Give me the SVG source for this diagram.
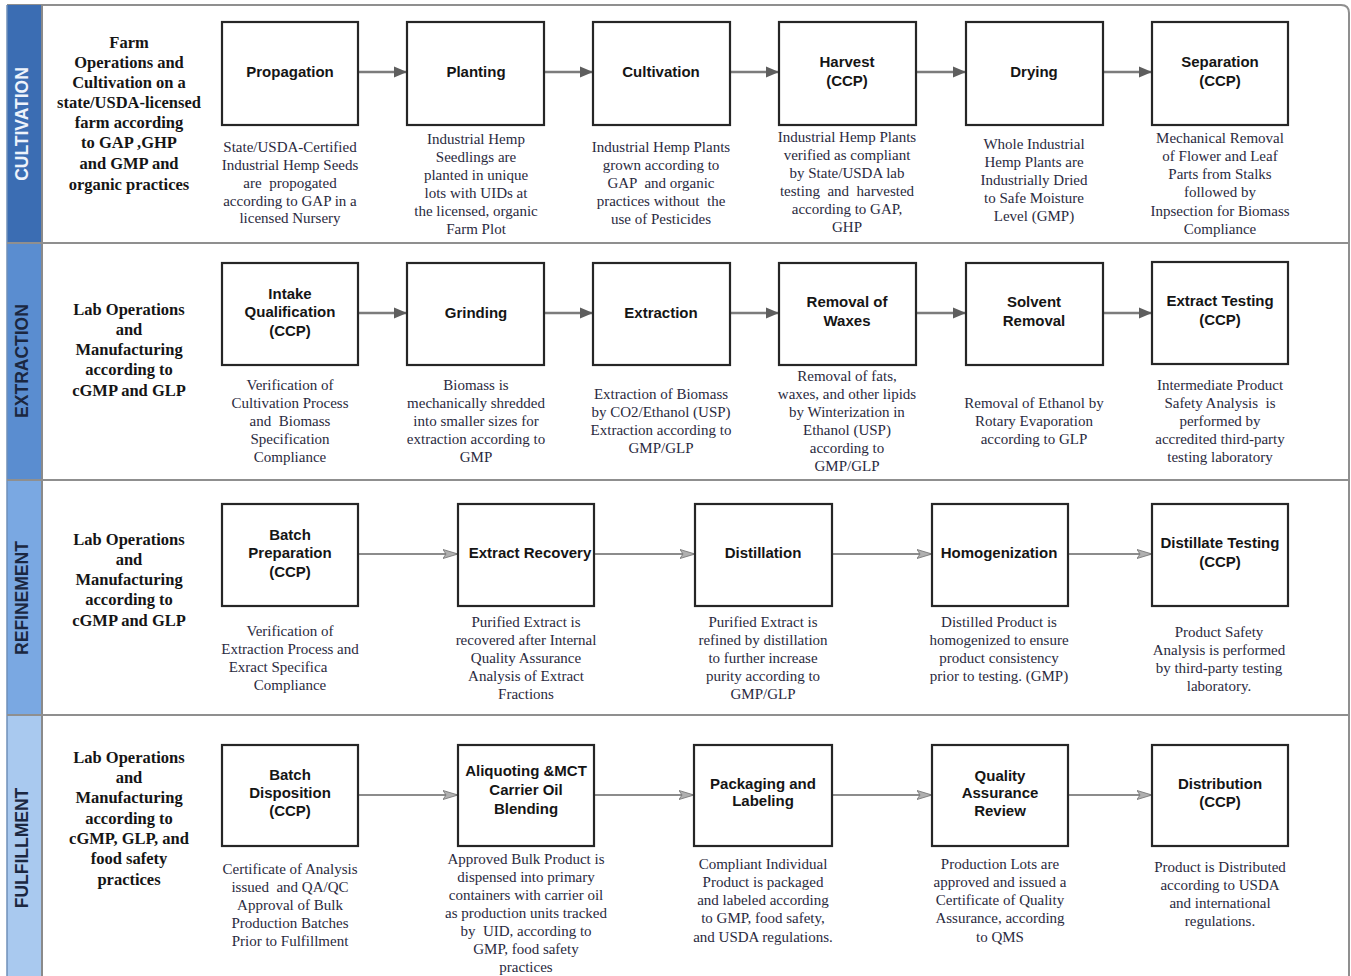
<svg xmlns="http://www.w3.org/2000/svg" width="1351" height="976" viewBox="0 0 1351 976">
<style>
.hdr{font-family:"Liberation Sans",Arial,sans-serif;font-weight:bold;font-size:17.5px;text-anchor:middle}
.lbl{font-family:"Liberation Serif","Times New Roman",serif;font-weight:bold;font-size:16.5px;text-anchor:middle;fill:#151515}
.box{fill:#fff;stroke:#262626;stroke-width:2.2}
.ttl{font-family:"Liberation Sans",Arial,sans-serif;font-weight:bold;font-size:15px;text-anchor:middle;fill:#151515}
.dsc{font-family:"Liberation Serif","Times New Roman",serif;font-size:15px;text-anchor:middle;fill:#2a2a3e;white-space:pre}
.c1{stroke:#7c7c7c;stroke-width:2.5;fill:none}
.c2{stroke:#8c8c8c;stroke-width:1.8;fill:none}
.div{stroke:#8f8f8f;stroke-width:2;fill:none}
</style>
<defs>
<marker id="ah1" markerUnits="userSpaceOnUse" markerWidth="14" markerHeight="12" refX="13" refY="6" orient="auto">
<path d="M0,0.5 L13,6 L0,11.5 z" fill="#5e5e5e"/>
</marker>
<marker id="ah2" markerUnits="userSpaceOnUse" markerWidth="16" markerHeight="12" refX="15" refY="6" orient="auto">
<path d="M0,1.5 L15,6 L0,10.5 L3,6 z" fill="#b0b0b0" stroke="#7a7a7a" stroke-width="0.9"/>
</marker>
</defs>
<rect x="0" y="0" width="1351" height="976" fill="#fff"/>

<g id="lanes">
<path d="M7,5 H1341 Q1349,5 1349,13 V976" class="div"/>
<rect x="7" y="5" width="35" height="238" fill="#3b6db3"/>
<rect x="7" y="243" width="35" height="237" fill="#5a8dd0"/>
<rect x="7" y="480" width="35" height="235" fill="#7aa8e2"/>
<rect x="7" y="715" width="35" height="261" fill="#a9c9ef"/>
<line x1="42" y1="5" x2="42" y2="976" stroke="#8a8a8a" stroke-width="2"/>
<line x1="7" y1="5" x2="7" y2="976" stroke="#6f8fb8" stroke-width="1.5"/>
<line x1="7" y1="243" x2="1349" y2="243" class="div"/>
<line x1="7" y1="480" x2="1349" y2="480" class="div"/>
<line x1="7" y1="715" x2="1349" y2="715" class="div"/>
<text class="hdr" fill="#eef3fb" transform="translate(28,124) rotate(-90)">CULTIVATION</text>
<text class="hdr" fill="#1b2740" transform="translate(28,361) rotate(-90)">EXTRACTION</text>
<text class="hdr" fill="#1b2740" transform="translate(28,598) rotate(-90)">REFINEMENT</text>
<text class="hdr" fill="#1b2740" transform="translate(28,848) rotate(-90)">FULFILLMENT</text>
</g>

<g id="lane-labels">
<text class="lbl"><tspan x="129" y="48">Farm</tspan><tspan x="129" y="68">Operations and</tspan><tspan x="129" y="88">Cultivation on a</tspan><tspan x="129" y="108">state/USDA-licensed</tspan><tspan x="129" y="128">farm according</tspan><tspan x="129" y="148">to GAP ,GHP</tspan><tspan x="129" y="169">and GMP and</tspan><tspan x="129" y="190">organic practices</tspan></text>
<text class="lbl"><tspan x="129" y="315">Lab Operations</tspan><tspan x="129" y="335">and</tspan><tspan x="129" y="355">Manufacturing</tspan><tspan x="129" y="375">according to</tspan><tspan x="129" y="396">cGMP and GLP</tspan></text>
<text class="lbl"><tspan x="129" y="545">Lab Operations</tspan><tspan x="129" y="565">and</tspan><tspan x="129" y="585">Manufacturing</tspan><tspan x="129" y="605">according to</tspan><tspan x="129" y="626">cGMP and GLP</tspan></text>
<text class="lbl"><tspan x="129" y="763">Lab Operations</tspan><tspan x="129" y="783">and</tspan><tspan x="129" y="803">Manufacturing</tspan><tspan x="129" y="824">according to</tspan><tspan x="129" y="844">cGMP, GLP, and</tspan><tspan x="129" y="864">food safety</tspan><tspan x="129" y="885">practices</tspan></text>
</g>

<g id="connectors">
<line class="c1" x1="358" y1="72" x2="407" y2="72" marker-end="url(#ah1)"/>
<line class="c1" x1="544" y1="72" x2="593" y2="72" marker-end="url(#ah1)"/>
<line class="c1" x1="730" y1="72" x2="779" y2="72" marker-end="url(#ah1)"/>
<line class="c1" x1="916" y1="72" x2="966" y2="72" marker-end="url(#ah1)"/>
<line class="c1" x1="1103" y1="72" x2="1152" y2="72" marker-end="url(#ah1)"/>
<line class="c1" x1="358" y1="313" x2="407" y2="313" marker-end="url(#ah1)"/>
<line class="c1" x1="544" y1="313" x2="593" y2="313" marker-end="url(#ah1)"/>
<line class="c1" x1="730" y1="313" x2="779" y2="313" marker-end="url(#ah1)"/>
<line class="c1" x1="916" y1="313" x2="966" y2="313" marker-end="url(#ah1)"/>
<line class="c1" x1="1103" y1="313" x2="1152" y2="313" marker-end="url(#ah1)"/>
<line class="c2" x1="358" y1="554" x2="458" y2="554" marker-end="url(#ah2)"/>
<line class="c2" x1="594" y1="554" x2="695" y2="554" marker-end="url(#ah2)"/>
<line class="c2" x1="832" y1="554" x2="932" y2="554" marker-end="url(#ah2)"/>
<line class="c2" x1="1068" y1="554" x2="1152" y2="554" marker-end="url(#ah2)"/>
<line class="c2" x1="358" y1="795" x2="458" y2="795" marker-end="url(#ah2)"/>
<line class="c2" x1="594" y1="795" x2="694" y2="795" marker-end="url(#ah2)"/>
<line class="c2" x1="832" y1="795" x2="932" y2="795" marker-end="url(#ah2)"/>
<line class="c2" x1="1068" y1="795" x2="1152" y2="795" marker-end="url(#ah2)"/>
</g>

<!-- Row 1 -->
<g id="n-propagation">
<rect class="box" x="222" y="22" width="136" height="103"/>
<text class="ttl" x="290" y="77">Propagation</text>
<text class="dsc"><tspan x="290" y="152">State/USDA-Certified</tspan><tspan x="290" y="170">Industrial Hemp Seeds</tspan><tspan x="290" y="188">are  propogated</tspan><tspan x="290" y="206">according to GAP in a</tspan><tspan x="290" y="223">licensed Nursery</tspan></text>
</g>
<g id="n-planting">
<rect class="box" x="407" y="22" width="137" height="103"/>
<text class="ttl" x="476" y="77">Planting</text>
<text class="dsc"><tspan x="476" y="144">Industrial Hemp</tspan><tspan x="476" y="162">Seedlings are</tspan><tspan x="476" y="180">planted in unique</tspan><tspan x="476" y="198">lots with UIDs at</tspan><tspan x="476" y="216">the licensed, organic</tspan><tspan x="476" y="234">Farm Plot</tspan></text>
</g>
<g id="n-cultivation">
<rect class="box" x="593" y="22" width="137" height="103"/>
<text class="ttl" x="661" y="77">Cultivation</text>
<text class="dsc"><tspan x="661" y="152">Industrial Hemp Plants</tspan><tspan x="661" y="170">grown according to</tspan><tspan x="661" y="188">GAP  and organic</tspan><tspan x="661" y="206">practices without  the</tspan><tspan x="661" y="224">use of Pesticides</tspan></text>
</g>
<g id="n-harvest">
<rect class="box" x="779" y="22" width="137" height="103"/>
<text class="ttl"><tspan x="847" y="67">Harvest</tspan><tspan x="847" y="86">(CCP)</tspan></text>
<text class="dsc"><tspan x="847" y="142">Industrial Hemp Plants</tspan><tspan x="847" y="160">verified as compliant</tspan><tspan x="847" y="178">by State/USDA lab</tspan><tspan x="847" y="196">testing  and  harvested</tspan><tspan x="847" y="214">according to GAP,</tspan><tspan x="847" y="232">GHP</tspan></text>
</g>
<g id="n-drying">
<rect class="box" x="966" y="22" width="137" height="103"/>
<text class="ttl" x="1034" y="77">Drying</text>
<text class="dsc"><tspan x="1034" y="149">Whole Industrial</tspan><tspan x="1034" y="167">Hemp Plants are</tspan><tspan x="1034" y="185">Industrially Dried</tspan><tspan x="1034" y="203">to Safe Moisture</tspan><tspan x="1034" y="221">Level (GMP)</tspan></text>
</g>
<g id="n-separation">
<rect class="box" x="1152" y="22" width="136" height="103"/>
<text class="ttl"><tspan x="1220" y="67">Separation</tspan><tspan x="1220" y="86">(CCP)</tspan></text>
<text class="dsc"><tspan x="1220" y="143">Mechanical Removal</tspan><tspan x="1220" y="161">of Flower and Leaf</tspan><tspan x="1220" y="179">Parts from Stalks</tspan><tspan x="1220" y="197">followed by</tspan><tspan x="1220" y="216">Inpsection for Biomass</tspan><tspan x="1220" y="234">Compliance</tspan></text>
</g>

<!-- Row 2 -->
<g id="n-intake">
<rect class="box" x="222" y="263" width="136" height="102"/>
<text class="ttl"><tspan x="290" y="299">Intake</tspan><tspan x="290" y="317">Qualification</tspan><tspan x="290" y="336">(CCP)</tspan></text>
<text class="dsc"><tspan x="290" y="390">Verification of</tspan><tspan x="290" y="408">Cultivation Process</tspan><tspan x="290" y="426">and  Biomass</tspan><tspan x="290" y="444">Specification</tspan><tspan x="290" y="462">Compliance</tspan></text>
</g>
<g id="n-grinding">
<rect class="box" x="407" y="263" width="137" height="102"/>
<text class="ttl" x="476" y="318">Grinding</text>
<text class="dsc"><tspan x="476" y="390">Biomass is</tspan><tspan x="476" y="408">mechanically shredded</tspan><tspan x="476" y="426">into smaller sizes for</tspan><tspan x="476" y="444">extraction according to</tspan><tspan x="476" y="462">GMP</tspan></text>
</g>
<g id="n-extraction">
<rect class="box" x="593" y="263" width="137" height="102"/>
<text class="ttl" x="661" y="318">Extraction</text>
<text class="dsc"><tspan x="661" y="399">Extraction of Biomass</tspan><tspan x="661" y="417">by CO2/Ethanol (USP)</tspan><tspan x="661" y="435">Extraction according to</tspan><tspan x="661" y="453">GMP/GLP</tspan></text>
</g>
<g id="n-waxes">
<rect class="box" x="779" y="263" width="137" height="102"/>
<text class="ttl"><tspan x="847" y="307">Removal of</tspan><tspan x="847" y="326">Waxes</tspan></text>
<text class="dsc"><tspan x="847" y="381">Removal of fats,</tspan><tspan x="847" y="399">waxes, and other lipids</tspan><tspan x="847" y="417">by Winterization in</tspan><tspan x="847" y="435">Ethanol (USP)</tspan><tspan x="847" y="453">according to</tspan><tspan x="847" y="471">GMP/GLP</tspan></text>
</g>
<g id="n-solvent">
<rect class="box" x="966" y="263" width="137" height="102"/>
<text class="ttl"><tspan x="1034" y="307">Solvent</tspan><tspan x="1034" y="326">Removal</tspan></text>
<text class="dsc"><tspan x="1034" y="408">Removal of Ethanol by</tspan><tspan x="1034" y="426">Rotary Evaporation</tspan><tspan x="1034" y="444">according to GLP</tspan></text>
</g>
<g id="n-extract-testing">
<rect class="box" x="1152" y="262" width="136" height="102"/>
<text class="ttl"><tspan x="1220" y="306">Extract Testing</tspan><tspan x="1220" y="325">(CCP)</tspan></text>
<text class="dsc"><tspan x="1220" y="390">Intermediate Product</tspan><tspan x="1220" y="408">Safety Analysis  is</tspan><tspan x="1220" y="426">performed by</tspan><tspan x="1220" y="444">accredited third-party</tspan><tspan x="1220" y="462">testing laboratory</tspan></text>
</g>

<!-- Row 3 -->
<g id="n-batch-prep">
<rect class="box" x="222" y="504" width="136" height="102"/>
<text class="ttl"><tspan x="290" y="540">Batch</tspan><tspan x="290" y="558">Preparation</tspan><tspan x="290" y="577">(CCP)</tspan></text>
<text class="dsc"><tspan x="290" y="636">Verification of</tspan><tspan x="290" y="654">Extraction Process and</tspan><tspan x="278" y="672">Exract Specifica</tspan><tspan x="290" y="690">Compliance</tspan></text>
</g>
<g id="n-extract-recovery">
<rect class="box" x="458" y="504" width="136" height="102"/>
<text class="ttl" x="530" y="558">Extract Recovery</text>
<text class="dsc"><tspan x="526" y="627">Purified Extract is</tspan><tspan x="526" y="645">recovered after Internal</tspan><tspan x="526" y="663">Quality Assurance</tspan><tspan x="526" y="681">Analysis of Extract</tspan><tspan x="526" y="699">Fractions</tspan></text>
</g>
<g id="n-distillation">
<rect class="box" x="695" y="504" width="137" height="102"/>
<text class="ttl" x="763" y="558">Distillation</text>
<text class="dsc"><tspan x="763" y="627">Purified Extract is</tspan><tspan x="763" y="645">refined by distillation</tspan><tspan x="763" y="663">to further increase</tspan><tspan x="763" y="681">purity according to</tspan><tspan x="763" y="699">GMP/GLP</tspan></text>
</g>
<g id="n-homogenization">
<rect class="box" x="932" y="504" width="136" height="102"/>
<text class="ttl" x="999" y="558">Homogenization</text>
<text class="dsc"><tspan x="999" y="627">Distilled Product is</tspan><tspan x="999" y="645">homogenized to ensure</tspan><tspan x="999" y="663">product consistency</tspan><tspan x="999" y="681">prior to testing. (GMP)</tspan></text>
</g>
<g id="n-distillate-testing">
<rect class="box" x="1152" y="504" width="136" height="102"/>
<text class="ttl"><tspan x="1220" y="548">Distillate Testing</tspan><tspan x="1220" y="567">(CCP)</tspan></text>
<text class="dsc"><tspan x="1219" y="637">Product Safety</tspan><tspan x="1219" y="655">Analysis is performed</tspan><tspan x="1219" y="673">by third-party testing</tspan><tspan x="1219" y="691">laboratory.</tspan></text>
</g>

<!-- Row 4 -->
<g id="n-batch-disposition">
<rect class="box" x="222" y="745" width="136" height="101"/>
<text class="ttl"><tspan x="290" y="780">Batch</tspan><tspan x="290" y="798">Disposition</tspan><tspan x="290" y="816">(CCP)</tspan></text>
<text class="dsc"><tspan x="290" y="874">Certificate of Analysis</tspan><tspan x="290" y="892">issued  and QA/QC</tspan><tspan x="290" y="910">Approval of Bulk</tspan><tspan x="290" y="928">Production Batches</tspan><tspan x="290" y="946">Prior to Fulfillment</tspan></text>
</g>
<g id="n-aliquoting">
<rect class="box" x="458" y="745" width="136" height="101"/>
<text class="ttl"><tspan x="526" y="776">Aliquoting &amp;MCT</tspan><tspan x="526" y="795">Carrier Oil</tspan><tspan x="526" y="814">Blending</tspan></text>
<text class="dsc"><tspan x="526" y="864">Approved Bulk Product is</tspan><tspan x="526" y="882">dispensed into primary</tspan><tspan x="526" y="900">containers with carrier oil</tspan><tspan x="526" y="918">as production units tracked</tspan><tspan x="526" y="936">by  UID, according to</tspan><tspan x="526" y="954">GMP, food safety</tspan><tspan x="526" y="972">practices</tspan></text>
</g>
<g id="n-packaging">
<rect class="box" x="694" y="745" width="138" height="101"/>
<text class="ttl"><tspan x="763" y="789">Packaging and</tspan><tspan x="763" y="806">Labeling</tspan></text>
<text class="dsc"><tspan x="763" y="869">Compliant Individual</tspan><tspan x="763" y="887">Product is packaged</tspan><tspan x="763" y="905">and labeled according</tspan><tspan x="763" y="923">to GMP, food safety,</tspan><tspan x="763" y="942">and USDA regulations.</tspan></text>
</g>
<g id="n-qa-review">
<rect class="box" x="932" y="745" width="136" height="101"/>
<text class="ttl"><tspan x="1000" y="781">Quality</tspan><tspan x="1000" y="798">Assurance</tspan><tspan x="1000" y="816">Review</tspan></text>
<text class="dsc"><tspan x="1000" y="869">Production Lots are</tspan><tspan x="1000" y="887">approved and issued a</tspan><tspan x="1000" y="905">Certificate of Quality</tspan><tspan x="1000" y="923">Assurance, according</tspan><tspan x="1000" y="942">to QMS</tspan></text>
</g>
<g id="n-distribution">
<rect class="box" x="1152" y="745" width="136" height="101"/>
<text class="ttl"><tspan x="1220" y="789">Distribution</tspan><tspan x="1220" y="807">(CCP)</tspan></text>
<text class="dsc"><tspan x="1220" y="872">Product is Distributed</tspan><tspan x="1220" y="890">according to USDA</tspan><tspan x="1220" y="908">and international</tspan><tspan x="1220" y="926">regulations.</tspan></text>
</g>
</svg>
